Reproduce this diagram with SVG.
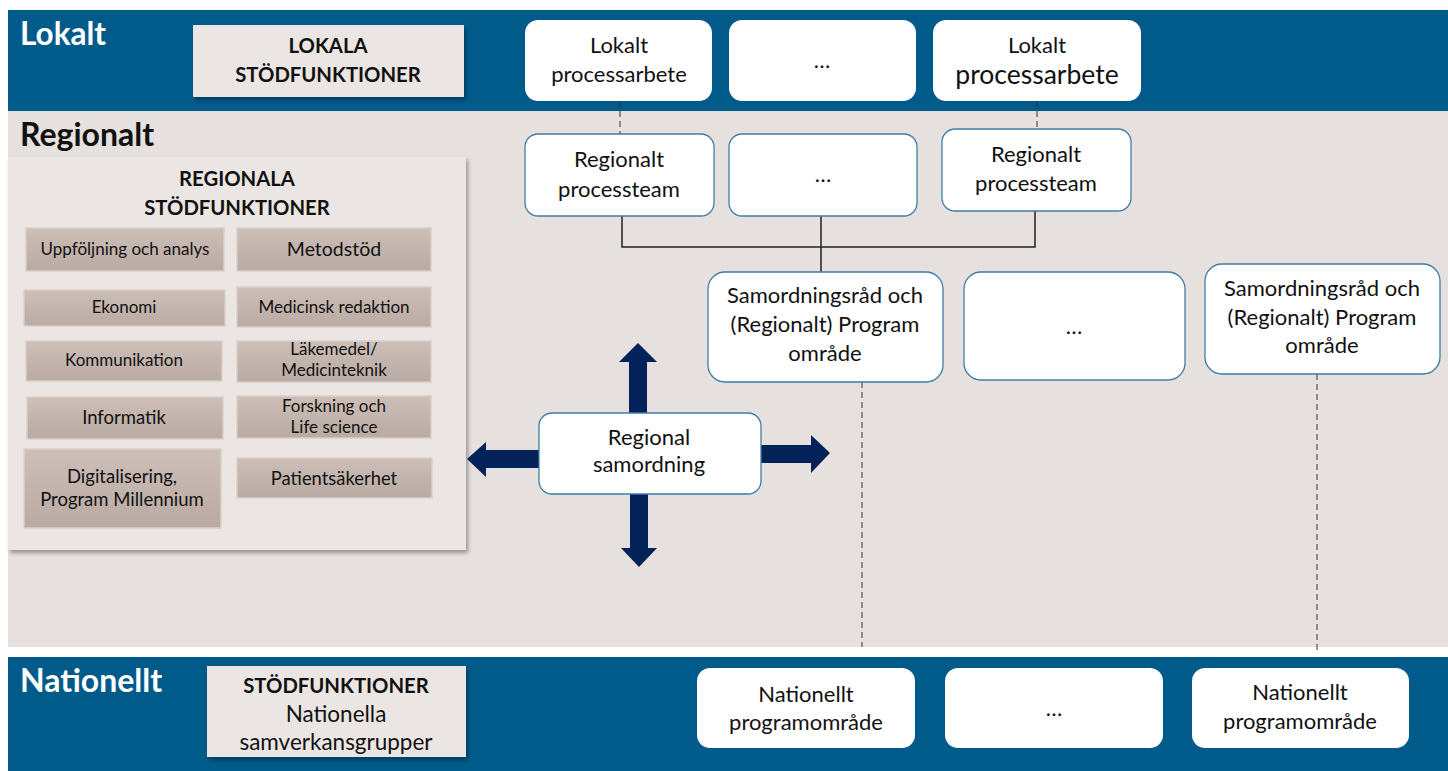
<svg xmlns="http://www.w3.org/2000/svg" width="1448" height="771" viewBox="0 0 1448 771">
<defs>
<filter id="sh" x="-10%" y="-10%" width="130%" height="140%">
<feDropShadow dx="2" dy="3" stdDeviation="2" flood-color="#000" flood-opacity="0.35"/>
</filter>
<linearGradient id="ib" x1="0" y1="0" x2="0" y2="1">
<stop offset="0" stop-color="#CDBFB8"/>
<stop offset="1" stop-color="#B9AAA3"/>
</linearGradient>
<style>
text{font-family:Lato,"Noto Sans","Liberation Sans",sans-serif;text-anchor:middle;fill:#111}
.band{fill:#015B8A}
.gray{fill:#E6E1DE}
.lvl{font-size:31.5px;font-weight:bold;text-anchor:start}
.wn{fill:#fff;stroke:none}
.bn{fill:#fff;stroke:#3F7EA6;stroke-width:1.3}
.sup{fill:#EBE6E3;filter:url(#sh)}
.ib{fill:url(#ib);stroke:#D9CFCA;stroke-width:1.5}
.t17{font-size:22px}
.t19{font-size:22px}
.it{font-size:17px}
.hd{font-size:20.3px;font-weight:bold}
.arr{fill:#03225A}
.dash{stroke:#333;stroke-width:1;stroke-dasharray:6,4;fill:none}
.solid{stroke:#222;stroke-width:1.5;fill:none}
</style>
</defs>
<rect width="1448" height="771" fill="#fff"/>
<g id="bands">
<rect class="band" x="8" y="10" width="1440" height="101"/>
<rect class="gray" x="8" y="111" width="1440" height="536"/>
<rect class="band" x="8" y="657" width="1440" height="114"/>
<text class="lvl" x="20" y="45" style="fill:#fff">Lokalt</text>
<text class="lvl" x="20" y="146" style="font-size:32px">Regionalt</text>
<text class="lvl" x="20" y="692" style="fill:#fff;font-size:32px">Nationellt</text>
</g>
<g id="connectors">
<line class="dash" x1="620" y1="101" x2="620" y2="134"/>
<line class="dash" x1="1037" y1="101" x2="1037" y2="129"/>
<polyline class="solid" points="622,216 622,247 1035,247 1035,211"/>
<line class="solid" x1="821" y1="216" x2="821" y2="272"/>
<line class="dash" x1="862" y1="382" x2="862" y2="647"/>
<line class="dash" x1="1317" y1="374" x2="1317" y2="652"/>
</g>
<g id="lokala-stod">
<rect x="193" y="25" width="271" height="72" fill="#EBE6E3" filter="url(#sh)"/>
<text class="hd" x="328" y="53">LOKALA</text>
<text class="hd" x="328" y="82">STÖDFUNKTIONER</text>
</g>
<g id="lokalt-1">
<rect class="wn" x="525" y="20" width="187" height="81" rx="13"/>
<text class="t17" x="619" y="53">Lokalt</text>
<text class="t17" x="619" y="82">processarbete</text>
</g>
<g id="lokalt-2">
<rect class="wn" x="729" y="20" width="187" height="81" rx="13"/>
<text class="t17" x="822" y="68">…</text>
</g>
<g id="lokalt-3">
<rect class="wn" x="933" y="20" width="208" height="81" rx="13"/>
<text class="t17" x="1037" y="53">Lokalt</text>
<text x="1037" y="84" style="font-size:26.5px">processarbete</text>
</g>
<g id="regionalt-1">
<rect class="bn" x="525" y="134" width="189" height="82" rx="13"/>
<text class="t17" x="619" y="167">Regionalt</text>
<text class="t17" x="619" y="197">processteam</text>
</g>
<g id="regionalt-2">
<rect class="bn" x="729" y="134" width="188" height="82" rx="13"/>
<text class="t17" x="823" y="182">…</text>
</g>
<g id="regionalt-3">
<rect class="bn" x="942" y="129" width="189" height="82" rx="13"/>
<text class="t17" x="1036" y="162">Regionalt</text>
<text class="t17" x="1036" y="191">processteam</text>
</g>
<g id="samordningsrad-1">
<rect class="bn" x="708" y="272" width="235" height="110" rx="17"/>
<text class="t19" x="825" y="303">Samordningsråd och</text>
<text class="t19" x="825" y="332">(Regionalt) Program</text>
<text class="t19" x="825" y="361">område</text>
</g>
<g id="samordningsrad-2">
<rect class="bn" x="964" y="272" width="221" height="108" rx="17"/>
<text class="t19" x="1074" y="334">…</text>
</g>
<g id="samordningsrad-3">
<rect class="bn" x="1205" y="264" width="235" height="110" rx="17"/>
<text class="t19" x="1322" y="296">Samordningsråd och</text>
<text class="t19" x="1322" y="325">(Regionalt) Program</text>
<text class="t19" x="1322" y="353">område</text>
</g>
<g id="regionala-stod">
<rect class="sup" x="8" y="157" width="458" height="393"/>
<text class="hd" x="237" y="186">REGIONALA</text>
<text class="hd" x="237" y="215">STÖDFUNKTIONER</text>
<rect class="ib" x="26" y="228" width="198" height="43"/>
<text class="it" x="125" y="255">Uppföljning och analys</text>
<rect class="ib" x="237" y="228" width="194" height="43"/>
<text x="334" y="256" style="font-size:19.5px">Metodstöd</text>
<rect class="ib" x="24" y="290" width="201" height="36"/>
<text class="it" x="124" y="313">Ekonomi</text>
<rect class="ib" x="237" y="287" width="194" height="40"/>
<text class="it" x="334" y="313">Medicinsk redaktion</text>
<rect class="ib" x="26" y="341" width="196" height="40"/>
<text class="it" x="124" y="366">Kommunikation</text>
<rect class="ib" x="237" y="341" width="194" height="41"/>
<text class="it" x="334" y="355">Läkemedel/</text>
<text class="it" x="334" y="376">Medicinteknik</text>
<rect class="ib" x="27" y="397" width="196" height="42"/>
<text x="124" y="424" style="font-size:18.5px">Informatik</text>
<rect class="ib" x="237" y="396" width="194" height="42"/>
<text class="it" x="334" y="412">Forskning och</text>
<text class="it" x="334" y="433">Life science</text>
<rect class="ib" x="24" y="449" width="197" height="79"/>
<text x="122" y="483" style="font-size:18.5px">Digitalisering,</text>
<text x="122" y="506" style="font-size:18.5px">Program Millennium</text>
<rect class="ib" x="237" y="458" width="195" height="40"/>
<text x="334" y="485" style="font-size:18.4px">Patientsäkerhet</text>
</g>
<g id="regional-samordning">
<polygon class="arr" points="629,414 629,362 619,362 638,343 657,362 647,362 647,414"/>
<polygon class="arr" points="630,493 630,548 621,548 639,567 657,548 648,548 648,493"/>
<polygon class="arr" points="541,450 486,450 486,442 467,459 486,477 486,468 541,468"/>
<polygon class="arr" points="759,445 811,445 811,435 830,453 811,473 811,463 759,463"/>
<rect class="bn" x="539" y="413" width="222" height="81" rx="13"/>
<text class="t19" x="649" y="445">Regional</text>
<text class="t19" x="649" y="472">samordning</text>
</g>
<g id="nationella-stod">
<rect x="207" y="666" width="259" height="91" fill="#EBE6E3" filter="url(#sh)"/>
<text class="hd" x="336" y="693">STÖDFUNKTIONER</text>
<text x="336" y="722" style="font-size:22.5px">Nationella</text>
<text x="336" y="750" style="font-size:22.5px">samverkansgrupper</text>
</g>
<g id="nationellt-1">
<rect class="wn" x="697" y="668" width="218" height="80" rx="13"/>
<text class="t19" x="806" y="702">Nationellt</text>
<text class="t19" x="806" y="730">programområde</text>
</g>
<g id="nationellt-2">
<rect class="wn" x="945" y="668" width="218" height="80" rx="13"/>
<text class="t19" x="1054" y="716">…</text>
</g>
<g id="nationellt-3">
<rect class="wn" x="1192" y="668" width="217" height="80" rx="13"/>
<text class="t19" x="1300" y="700">Nationellt</text>
<text class="t19" x="1300" y="729">programområde</text>
</g>
</svg>
